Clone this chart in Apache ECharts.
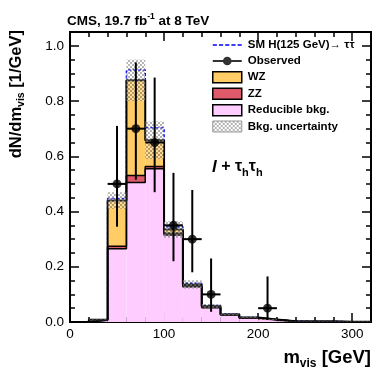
<!DOCTYPE html>
<html>
<head>
<meta charset="utf-8">
<script src="https://cdn.jsdelivr.net/npm/echarts@6/dist/echarts.min.js"></script>
<style>
  html, body { margin: 0; padding: 0; background: #fff; }
  #chart { width: 390px; height: 379px; }
</style>
</head>
<body>
<div id="chart"></div>
<script>
// bin edges of m_vis [GeV], 20 GeV bins
const binEdges = [0, 20, 40, 60, 80, 100, 120, 140, 160, 180, 200, 220, 240, 260, 280, 300, 320]

// stacked backgrounds, dN/dm_vis [1/GeV]
const reducible = [0, 0.006, 0.265, 0.505, 0.555, 0.315, 0.128, 0.052, 0.025, 0.014, 0.007, 0.003, 0.002, 0.002, 0.001, 0.001]
const zz        = [0, 0.001, 0.009, 0.025, 0.008, 0.006, 0.003, 0.002, 0.001, 0.001, 0.002, 0, 0, 0, 0, 0]
const wz        = [0, 0.001, 0.166, 0.345, 0.095, 0.014, 0.005, 0.004, 0.002, 0.001, 0, 0, 0, 0, 0, 0]
const higgs     = [0, 0, 0.007, 0.037, 0.045, 0.010, 0.004, 0.002, 0.001, 0, 0, 0, 0, 0, 0, 0]
const bkgUnc    = [0, 0.002, 0.030, 0.075, 0.068, 0.030, 0.015, 0.007, 0.004, 0.003, 0.002, 0.001, 0.001, 0.001, 0.001, 0.001]

// observed data
const obsX       = [50, 70, 90, 110, 130, 150, 210]
const obsY       = [0.50, 0.70, 0.65, 0.35, 0.30, 0.10, 0.05]
const obsErrUp   = [0.21, 0.24, 0.235, 0.19, 0.178, 0.13, 0.115]
const obsErrDown = [0.155, 0.185, 0.18, 0.13, 0.12, 0.063, 0.043]

const FONT = '"Liberation Sans", Arial, Helvetica, sans-serif'

// cumulative stack levels
const lvlRed = reducible.slice()
const lvlZZ = lvlRed.map((v, i) => v + zz[i])
const lvlWZ = lvlZZ.map((v, i) => v + wz[i])
const lvlSig = lvlWZ.map((v, i) => v + higgs[i])

// checker pattern for the uncertainty band
const hatch = document.createElement('canvas')
hatch.width = 4
hatch.height = 4
const hctx = hatch.getContext('2d')
hctx.fillStyle = 'rgba(90,90,90,0.45)'
hctx.fillRect(0, 0, 2, 2)
hctx.fillRect(2, 2, 2, 2)
hctx.fillStyle = 'rgba(255,255,255,0.35)'
hctx.fillRect(2, 0, 2, 2)
hctx.fillRect(0, 2, 2, 2)
const hatchPattern = { image: hatch, repeat: 'repeat' }

// [xlo, xhi, ylo, yhi] for each bin
const bandData = (lo, hi) => binEdges.slice(0, -1).map((e, i) => [e, binEdges[i + 1], lo[i], hi[i]])
// step outline points
const stepData = (lvl) => binEdges.map((e, i) => [e, lvl[Math.min(i, lvl.length - 1)]])

const rectSeries = (name, data, fill, z) => ({
  name: name,
  type: 'custom',
  z: z,
  silent: true,
  encode: { x: [0, 1], y: [2, 3] },
  data: data,
  renderItem: (params, api) => {
    const p0 = api.coord([api.value(0), api.value(3)])
    const p1 = api.coord([api.value(1), api.value(2)])
    return {
      type: 'rect',
      shape: { x: p0[0], y: p0[1], width: p1[0] - p0[0], height: p1[1] - p0[1] },
      style: { fill: fill, stroke: null }
    }
  }
})

const stepSeries = (name, lvl, color, width, dash, z) => ({
  name: name,
  type: 'line',
  step: 'end',
  z: z,
  silent: true,
  showSymbol: false,
  symbol: 'none',
  data: stepData(lvl),
  lineStyle: { color: color, width: width, type: dash },
  itemStyle: { color: color }
})

const tickStyle = { color: '#000', width: 1.5 }

const makeAxis = (dim, position, interval, max, tickLen, showLabel) => ({
  type: 'value',
  position: position,
  min: 0,
  max: max,
  interval: interval,
  splitLine: { show: false },
  axisLine: { show: true, onZero: false, lineStyle: { color: '#000', width: 2 } },
  axisTick: { show: true, inside: true, length: tickLen, lineStyle: tickStyle },
  axisLabel: {
    show: showLabel,
    color: '#000',
    fontSize: 13.5,
    fontFamily: FONT,
    showMaxLabel: false,
    margin: dim === 'x' ? 5 : 6,
    formatter: dim === 'y' ? (v) => v.toFixed(1) : (v) => String(v)
  }
})

const chart = echarts.init(document.getElementById('chart'), null, { renderer: 'canvas' })

chart.setOption({
  animation: false,
  backgroundColor: '#fff',
  title: {
    text: 'CMS, 19.7 fb{sup|-1} at 8 TeV',
    left: 67,
    top: 12,
    padding: 0,
    textStyle: {
      fontFamily: FONT,
      fontWeight: 'bold',
      fontSize: 13.5,
      color: '#000',
      rich: {
        sup: { fontSize: 8.5, fontWeight: 'bold', fontFamily: FONT, verticalAlign: 'top', lineHeight: 18, color: '#000' }
      }
    }
  },
  grid: { left: 70, right: 19, top: 32, bottom: 57, containLabel: false },
  xAxis: [
    makeAxis('x', 'bottom', 100, 320, 9, true),
    makeAxis('x', 'bottom', 20, 320, 5, false),
    makeAxis('x', 'top', 100, 320, 9, false),
    makeAxis('x', 'top', 20, 320, 5, false)
  ],
  yAxis: [
    makeAxis('y', 'left', 0.2, 1.05, 9, true),
    makeAxis('y', 'left', 0.05, 1.05, 5, false),
    makeAxis('y', 'right', 0.2, 1.05, 9, false),
    makeAxis('y', 'right', 0.05, 1.05, 5, false)
  ],
  legend: {
    orient: 'vertical',
    left: 212,
    top: 39,
    padding: 0,
    itemWidth: 29,
    itemHeight: 11,
    itemGap: 4,
    selectedMode: false,
    textStyle: { fontFamily: FONT, fontWeight: 'bold', fontSize: 11.5, lineHeight: 11, color: '#000', padding: [0, 0, 0, 1] },
    data: [
      {
        name: 'SM H(125 GeV)\u2192 \u03c4\u03c4',
        icon: 'path://M0,0H4V1.4H0Z M6,0H10V1.4H6Z M12,0H16V1.4H12Z M18,0H22V1.4H18Z M24,0H28V1.4H24Z',
        itemStyle: { color: '#0000ff', borderWidth: 0 }
      },
      {
        name: 'Observed',
        icon: 'path://M0,4.5H30V6.5H0Z M10.5,5.5A4.5,4.5,0,1,1,19.5,5.5A4.5,4.5,0,1,1,10.5,5.5Z M0,1H0.01V1.01H0Z M0,10H0.01V10.01H0Z',
        itemStyle: { color: '#000', borderWidth: 0 }
      },
      { name: 'WZ', icon: 'rect', itemStyle: { color: '#ffcc66', borderColor: '#000', borderWidth: 1.5 } },
      { name: 'ZZ', icon: 'rect', itemStyle: { color: '#de5a6a', borderColor: '#000', borderWidth: 1.5 } },
      { name: 'Reducible bkg.', icon: 'rect', itemStyle: { color: '#ffccff', borderColor: '#000', borderWidth: 1.5 } },
      { name: 'Bkg. uncertainty', icon: 'rect', itemStyle: { color: hatchPattern, borderColor: '#999', borderWidth: 1 } }
    ]
  },
  graphic: [
    {
      type: 'text',
      x: 16,
      y: 30,
      rotation: Math.PI / 2,
      style: {
        text: 'dN/dm{s|vis} [1/GeV]',
        align: 'right',
        verticalAlign: 'middle',
        fontFamily: FONT,
        fontWeight: 'bold',
        fontSize: 16.5,
        lineHeight: 22,
        fill: '#000',
        rich: { s: { fontSize: 10.5, fontWeight: 'bold', fontFamily: FONT, verticalAlign: 'bottom', lineHeight: 22, fill: '#000' } }
      }
    },
    {
      type: 'text',
      x: 371,
      y: 358,
      style: {
        text: 'm{s|vis} [GeV]',
        align: 'right',
        verticalAlign: 'middle',
        fontFamily: FONT,
        fontWeight: 'bold',
        fontSize: 18.5,
        lineHeight: 24,
        fill: '#000',
        rich: { s: { fontSize: 12, fontWeight: 'bold', fontFamily: FONT, verticalAlign: 'bottom', lineHeight: 24, fill: '#000' } }
      }
    },
    {
      type: 'text',
      x: 212,
      y: 167,
      style: {
        text: '{l|l} + \u03c4{s|h}\u03c4{s|h}',
        align: 'left',
        verticalAlign: 'middle',
        fontFamily: FONT,
        fontWeight: 'bold',
        fontSize: 16,
        lineHeight: 22,
        fill: '#000',
        rich: {
          l: { fontSize: 17, fontStyle: 'italic', fontWeight: 'bold', fontFamily: FONT, lineHeight: 22, fill: '#000' },
          s: { fontSize: 11, fontWeight: 'bold', fontFamily: FONT, verticalAlign: 'bottom', lineHeight: 22, fill: '#000' }
        }
      }
    }
  ],
  series: [
    stepSeries('SM H(125 GeV)\u2192 \u03c4\u03c4', lvlSig, '#0000ff', 1.5, [3, 2], 1),
    rectSeries('Reducible bkg.', bandData(lvlRed.map(() => 0), lvlRed), '#ffccff', 2),
    rectSeries('ZZ', bandData(lvlRed, lvlZZ), '#de5a6a', 2),
    rectSeries('WZ', bandData(lvlZZ, lvlWZ), '#ffcc66', 2),
    stepSeries('outline reducible', lvlRed, '#000', 1.5, 'solid', 3),
    stepSeries('outline zz', lvlZZ, '#000', 1.5, 'solid', 3),
    stepSeries('outline wz', lvlWZ, '#000', 2, 'solid', 3),
    rectSeries('Bkg. uncertainty', bandData(lvlWZ.map((v, i) => Math.max(0, v - bkgUnc[i])), lvlWZ.map((v, i) => v + bkgUnc[i])), hatchPattern, 4),
    {
      name: 'Observed errors',
      type: 'custom',
      z: 5,
      silent: true,
      encode: { x: 0, y: [1, 2, 3] },
      data: obsX.map((x, i) => [x, obsY[i], obsY[i] - obsErrDown[i], obsY[i] + obsErrUp[i]]),
      renderItem: (params, api) => {
        const halfW = (binEdges[1] - binEdges[0]) / 2
        const x = api.value(0)
        const y = api.value(1)
        const lo = api.coord([x, api.value(2)])
        const hi = api.coord([x, api.value(3)])
        const l = api.coord([x - halfW, y])
        const r = api.coord([x + halfW, y])
        const st = { stroke: '#000', lineWidth: 2 }
        return {
          type: 'group',
          children: [
            { type: 'line', shape: { x1: lo[0], y1: lo[1], x2: hi[0], y2: hi[1] }, style: st },
            { type: 'line', shape: { x1: l[0], y1: l[1], x2: r[0], y2: r[1] }, style: st }
          ]
        }
      }
    },
    {
      name: 'Observed',
      type: 'scatter',
      z: 6,
      silent: true,
      symbol: 'circle',
      symbolSize: 9,
      itemStyle: { color: '#000' },
      data: obsX.map((x, i) => [x, obsY[i]])
    }
  ]
})
</script>
</body>
</html>
